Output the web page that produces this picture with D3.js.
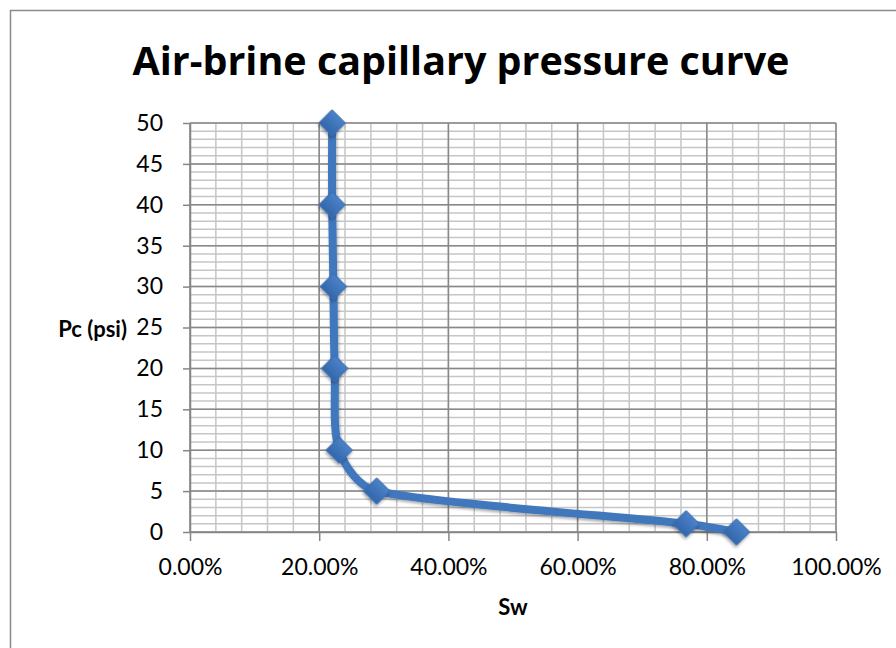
<!DOCTYPE html>
<html>
<head>
<meta charset="utf-8">
<script src="https://cdn.jsdelivr.net/npm/d3@7"></script>
<style>
  body { margin: 0; background: #fff; }
  text { font-family: Lato, "Open Sans", sans-serif; fill: #000; }
</style>
</head>
<body>
<div id="chart"></div>
<script>
// Data
const sw = [0.22, 0.22, 0.222, 0.224, 0.231, 0.289, 0.768, 0.846];
const pc = [50, 40, 30, 20, 10, 5, 1, 0];
const xTicks = [0, 0.2, 0.4, 0.6, 0.8, 1.0];
const yTicks = [0, 5, 10, 15, 20, 25, 30, 35, 40, 45, 50];
const chartTitle = "Air-brine capillary pressure curve";
const xTitle = "Sw";
const yTitle = "Pc (psi)";

const points = sw.map((s, i) => ({ sw: s, pc: pc[i] }));

const width = 896;
const height = 648;
const margin = { top: 123, right: 60, bottom: 116, left: 190 };

const svg = d3
  .select("#chart")
  .append("svg")
  .attr("width", width)
  .attr("height", height);

// drop shadow for markers
const defs = svg.append("defs");
const shadow = defs.append("filter").attr("id", "shadow").attr("x", "-50%").attr("y", "-50%").attr("width", "200%").attr("height", "200%");
shadow.append("feDropShadow").attr("dx", 1).attr("dy", 2).attr("stdDeviation", 1.5).attr("flood-color", "#000").attr("flood-opacity", 0.35);
const grad = defs.append("linearGradient").attr("id", "mk").attr("x1", 0).attr("y1", 0).attr("x2", 0).attr("y2", 1);
grad.append("stop").attr("offset", "0%").attr("stop-color", "#4a82c8");
grad.append("stop").attr("offset", "100%").attr("stop-color", "#3466ab");

// chart border (clipped on right and bottom like the original)
svg
  .append("rect")
  .attr("x", 10.5)
  .attr("y", 10.5)
  .attr("width", width + 20)
  .attr("height", height + 20)
  .attr("fill", "none")
  .attr("stroke", "#8a8a8a")
  .attr("stroke-width", 1.5);

const xScale = d3.scaleLinear().domain([0, 1]).range([margin.left, width - margin.right]);
const yScale = d3.scaleLinear().domain([0, 50]).range([height - margin.bottom, margin.top]);

// Gridlines
const grid = svg.append("g");
const minorX = d3.range(0, 1.0001, 0.04);
const minorY = d3.range(0, 50.0001, 1);

grid
  .selectAll(".minor-x")
  .data(minorX)
  .enter()
  .append("line")
  .attr("x1", (d) => xScale(d))
  .attr("x2", (d) => xScale(d))
  .attr("y1", yScale(0))
  .attr("y2", yScale(50))
  .attr("stroke", "#c6c6c6")
  .attr("stroke-width", 1.5);

grid
  .selectAll(".minor-y")
  .data(minorY)
  .enter()
  .append("line")
  .attr("x1", xScale(0))
  .attr("x2", xScale(1))
  .attr("y1", (d) => yScale(d))
  .attr("y2", (d) => yScale(d))
  .attr("stroke", "#c6c6c6")
  .attr("stroke-width", 1.5);

grid
  .selectAll(".major-x")
  .data(xTicks)
  .enter()
  .append("line")
  .attr("x1", (d) => xScale(d))
  .attr("x2", (d) => xScale(d))
  .attr("y1", yScale(0))
  .attr("y2", yScale(50))
  .attr("stroke", "#888")
  .attr("stroke-width", 1.5);

grid
  .selectAll(".major-y")
  .data(yTicks)
  .enter()
  .append("line")
  .attr("x1", xScale(0))
  .attr("x2", xScale(1))
  .attr("y1", (d) => yScale(d))
  .attr("y2", (d) => yScale(d))
  .attr("stroke", "#888")
  .attr("stroke-width", 1.5);

// Axes
const yAxis = svg
  .append("g")
  .attr("transform", `translate(${margin.left},0)`)
  .call(d3.axisLeft(yScale).tickValues(yTicks).tickSize(7).tickSizeOuter(0).tickPadding(20));

const xAxis = svg
  .append("g")
  .attr("transform", `translate(0,${yScale(0)})`)
  .call(
    d3
      .axisBottom(xScale)
      .tickValues(xTicks)
      .tickSize(9)
      .tickSizeOuter(0)
      .tickPadding(18)
      .tickFormat((d) => (d * 100).toFixed(2) + "%")
  );

[xAxis, yAxis].forEach((ax) => {
  ax.selectAll("path, line").attr("stroke", "#868686").attr("stroke-width", 1.5);
  ax.selectAll("text").style("font-size", "23px").attr("fill", "#000");
});

// Smoothed curve, Excel style: cardinal tangents, handles shortened next to short segments
function smoothPath(pts) {
  const p = d3.path();
  const n = pts.length;
  const dist = (a, b) => Math.hypot(b[0] - a[0], b[1] - a[1]);
  const handles = pts.map((pt, i) => {
    const prev = pts[Math.max(i - 1, 0)];
    const next = pts[Math.min(i + 1, n - 1)];
    const tx = (next[0] - prev[0]) / 6;
    const ty = (next[1] - prev[1]) / 6;
    const d0 = dist(prev, pt);
    const d1 = dist(pt, next);
    const sIn = d0 + d1 > 0 ? Math.min(1, (2 * d0) / (d0 + d1)) : 0;
    const sOut = d0 + d1 > 0 ? Math.min(1, (2 * d1) / (d0 + d1)) : 0;
    return {
      in: [pt[0] - tx * sIn, pt[1] - ty * sIn],
      out: [pt[0] + tx * sOut, pt[1] + ty * sOut],
    };
  });
  p.moveTo(pts[0][0], pts[0][1]);
  for (let i = 1; i < n; i++) {
    const a = handles[i - 1].out;
    const b = handles[i].in;
    p.bezierCurveTo(a[0], a[1], b[0], b[1], pts[i][0], pts[i][1]);
  }
  return p.toString();
}

const pixelPoints = points.map((d) => [xScale(d.sw), yScale(d.pc)]);

svg
  .append("path")
  .attr("d", smoothPath(pixelPoints))
  .attr("fill", "none")
  .attr("stroke", "#3f77bd")
  .attr("stroke-width", 8)
  .attr("stroke-linejoin", "round")
  .attr("filter", "url(#shadow)");

// Markers (rotated squares)
svg
  .selectAll(".marker")
  .data(points)
  .enter()
  .append("path")
  .attr("d", d3.symbol(d3.symbolSquare, 340))
  .attr("transform", (d) => `translate(${xScale(d.sw)},${yScale(d.pc)}) rotate(45)`)
  .attr("fill", "url(#mk)")
  .attr("stroke", "#3a6fb3")
  .attr("stroke-width", 1)
  .attr("filter", "url(#shadow)");

// Titles
const title = svg
  .append("text")
  .attr("x", 461)
  .attr("y", 75)
  .attr("text-anchor", "middle")
  .style("font-family", "'Open Sans', Lato, sans-serif")
  .style("font-size", "40px")
  .style("font-weight", "bold")
  .text(chartTitle);
// fit the title to the width it has in the original
const tw = title.node().getComputedTextLength();
title.style("font-size", (40 * 657) / tw + "px");

svg
  .append("text")
  .attr("x", 513)
  .attr("y", 615)
  .attr("text-anchor", "middle")
  .style("font-size", "22px")
  .style("font-weight", "bold")
  .text(xTitle);

svg
  .append("text")
  .attr("x", 127)
  .attr("y", 337)
  .attr("text-anchor", "end")
  .style("font-size", "22px")
  .style("font-weight", "bold")
  .text(yTitle);
</script>
</body>
</html>
